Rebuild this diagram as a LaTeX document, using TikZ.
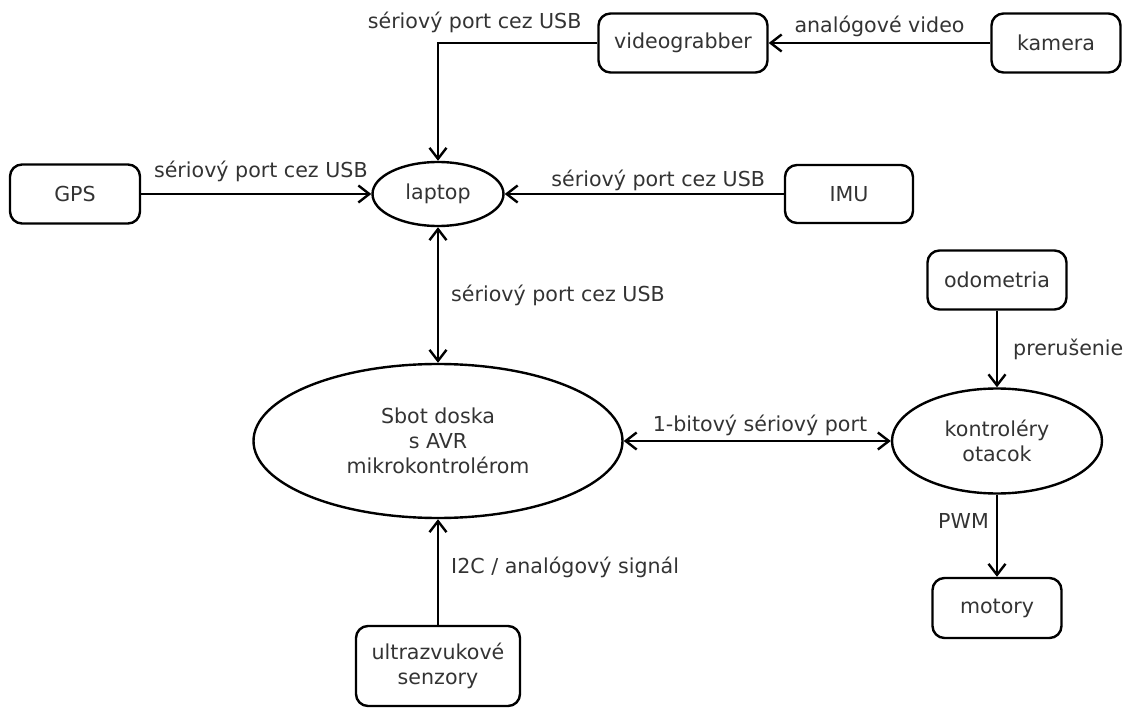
\documentclass[tikz,border=0pt]{standalone}
\usepackage{fontspec}
\setmainfont{DejaVu Sans}
\usetikzlibrary{arrows.meta,shapes.geometric}
\begin{document}
\begin{tikzpicture}[x=1pt,y=-1pt,
  font=\fontsize{20.6}{25}\selectfont,
  box/.style={draw=black, line width=2.4pt, rounded corners=12pt, inner sep=0pt,
    align=center, text=black!80},
  oval/.style={draw=black, ellipse, line width=2.4pt, inner sep=0pt,
    align=center, text=black!80},
  tip/.tip={Straight Barb[length=11pt,width=17pt]},
  arr/.style={line width=2.4pt, -tip},
  arrboth/.style={line width=2.4pt, tip-tip},
  lbl/.style={inner sep=0pt, text=black!80}
]
\useasboundingbox (0,0) rectangle (1127,708);

% devices and processing units
\node[box, minimum width=169pt, minimum height=59pt] (vg) at (683,43) {videograbber};
\node[box, minimum width=129pt, minimum height=59pt] (kamera) at (1056,43) {kamera};
\node[box, minimum width=130pt, minimum height=59pt] (gps) at (75,194) {GPS};
\node[box, minimum width=128pt, minimum height=58pt] (imu) at (849,194) {IMU};
\node[oval, minimum width=131pt, minimum height=64pt] (laptop) at (438,194) {laptop};
\node[oval, minimum width=369pt, minimum height=154pt] (sbot) at (438,441)
  {Sbot doska\\s AVR\\mikrokontrolérom};
\node[oval, minimum width=210pt, minimum height=105pt] (kont) at (997,441)
  {kontroléry\\otacok};
\node[box, minimum width=139pt, minimum height=59pt] (odo) at (997,280) {odometria};
\node[box, minimum width=129pt, minimum height=60pt] (motory) at (997,608) {motory};
\node[box, minimum width=164pt, minimum height=80pt] (ultra) at (438,666)
  {ultrazvukové\\senzory};

% connections
\draw[arr] (kamera) -- (vg)
  node[lbl, midway, anchor=base, yshift=10pt] {analógové video};
\draw[arr] (vg.west) -| (laptop.north)
  node[lbl, pos=0.385, anchor=base, yshift=14pt] {sériový port cez USB};
\draw[arr] (gps) -- (laptop)
  node[lbl, pos=0.52, anchor=base, yshift=16pt] {sériový port cez USB};
\draw[arr] (imu) -- (laptop)
  node[lbl, pos=0.45, anchor=base, yshift=7pt] {sériový port cez USB};
\draw[arrboth] (laptop) -- (sbot)
  node[lbl, midway, anchor=west, xshift=12pt] {sériový port cez USB};
\draw[arrboth] (sbot) -- (kont)
  node[lbl, pos=0.51, anchor=base, yshift=10pt] {1-bitový sériový port};
\draw[arr] (odo) -- (kont)
  node[lbl, midway, anchor=west, xshift=15pt] {prerušenie};
\draw[arr] (kont) -- (motory)
  node[lbl, pos=0.32, anchor=east, xshift=-7pt] {PWM};
\draw[arr] (ultra) -- (sbot)
  node[lbl, pos=0.54, anchor=west, xshift=12pt] {I2C / analógový signál};
\end{tikzpicture}
\end{document}
